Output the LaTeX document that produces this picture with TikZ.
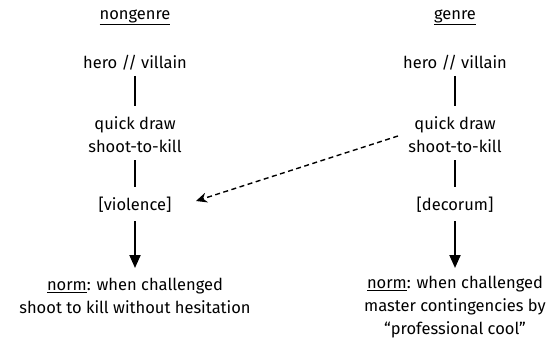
\documentclass[tikz,border=0pt]{standalone}
\usepackage{fontspec}
\setmainfont{Fira Sans}
\usetikzlibrary{arrows.meta}
\begin{document}
\begin{tikzpicture}[x=1pt,y=-1pt,
  lbl/.style={font=\fontsize{16.5}{23}\selectfont, align=center, inner sep=0pt},
  link/.style={line width=2pt},
  flow/.style={line width=2pt, -{Triangle[length=13pt,width=11pt]}},
  cross/.style={line width=1.4pt, dash pattern=on 5pt off 3.5pt, -{Stealth[length=11pt,width=10pt]}}]
\useasboundingbox (0,0) rectangle (553,339);
% left column
\node[lbl] (ltitle) at (135,17) {\underline{nongenre}};
\node[lbl] (lhero) at (135,63) {hero // villain};
\node[lbl] (lquick) at (135,134.5) {quick draw\\shoot-to-kill};
\node[lbl] (lval) at (135,205) {[violence]};
\node[lbl] (lnorm) at (135,296) {\underline{norm}: when challenged\\shoot to kill without hesitation};
% right column
\node[lbl] (rtitle) at (455,17) {\underline{genre}};
\node[lbl] (rhero) at (455,63) {hero // villain};
\node[lbl] (rquick) at (455,134.5) {quick draw\\shoot-to-kill};
\node[lbl] (rval) at (455,205) {[decorum]};
\node[lbl] (rnorm) at (455,307.5) {\underline{norm}: when challenged\\master contingencies by\\``professional cool''};
% connectors
\coordinate (l1a) at (135,76); \coordinate (l1b) at (135,106);
\coordinate (l2a) at (135,160); \coordinate (l2b) at (135,187);
\coordinate (l3a) at (135,221); \coordinate (l3b) at (135,268);
\coordinate (r1a) at (455,76); \coordinate (r1b) at (455,106);
\coordinate (r2a) at (455,160); \coordinate (r2b) at (455,187);
\coordinate (r3a) at (455,221); \coordinate (r3b) at (455,268);
\draw[link] (l1a) -- (l1b);
\draw[link] (l2a) -- (l2b);
\draw[flow] (l3a) -- (l3b);
\draw[link] (r1a) -- (r1b);
\draw[link] (r2a) -- (r2b);
\draw[flow] (r3a) -- (r3b);
\coordinate (dstart) at (398,136);
\coordinate (dend) at (196,201);
\draw[cross] (dstart) -- (dend);
\end{tikzpicture}
\end{document}
